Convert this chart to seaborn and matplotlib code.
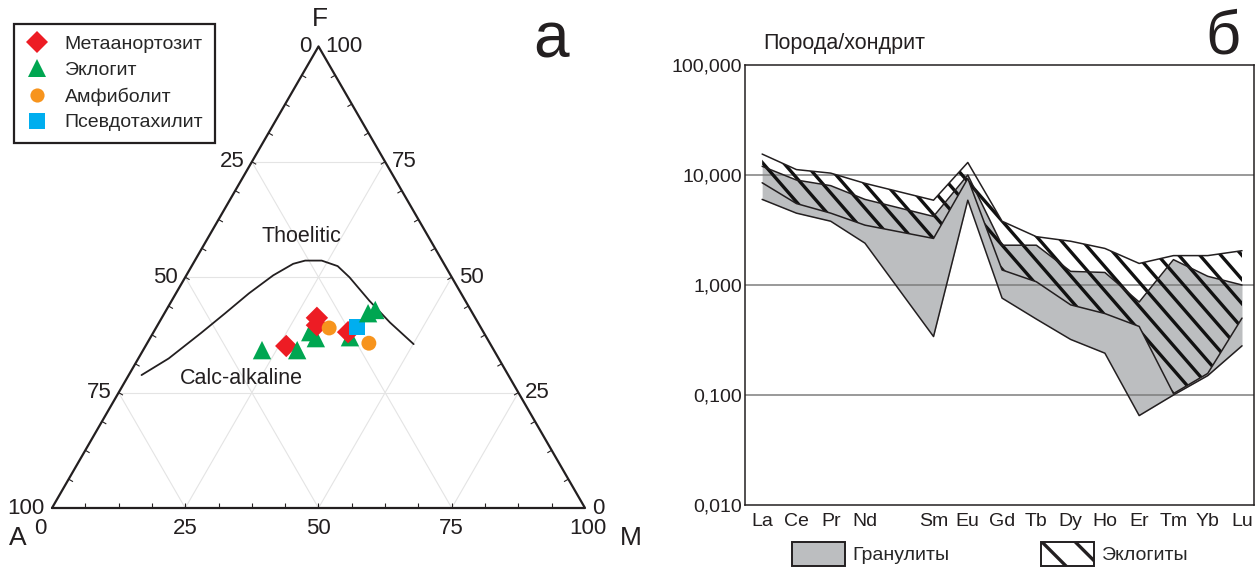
import numpy as np
import pandas as pd
import matplotlib
matplotlib.use("Agg")
import matplotlib.pyplot as plt
from matplotlib.lines import Line2D
from matplotlib.patches import Patch
from matplotlib.collections import LineCollection
import seaborn as sns

# --- AFM ternary samples, percent of A, F, M ---
rock = ["Эклогит", "Метаанортозит", "Эклогит", "Эклогит", "Эклогит",
        "Метаанортозит", "Метаанортозит", "Амфиболит", "Эклогит", "Метаанортозит",
        "Псевдотахилит", "Амфиболит", "Эклогит", "Эклогит"]
a_pct = [43.5, 38.5, 36.9, 32.5, 32.1, 29.7, 30.5, 28.5, 25.6, 25.4, 23.2, 22.7, 19.6, 17.9]
f_pct = [34.2, 35.1, 34.2, 38.1, 36.8, 41.2, 39.6, 39.0, 37.0, 38.1, 39.2, 35.7, 42.2, 42.9]
m_pct = [22.3, 26.4, 28.9, 29.4, 31.1, 29.1, 29.9, 32.5, 37.4, 36.5, 37.6, 41.6, 38.2, 39.2]

# tholeiitic / calc-alkaline dividing line
curve_a = [68.8, 61.9, 53.1, 46.5, 39.8, 33.3, 28.3, 25.7, 22.7, 20.2, 19.2, 17.9, 16.5, 14.4]
curve_f = [28.8, 32.4, 37.9, 42.2, 46.5, 50.4, 52.9, 53.6, 53.6, 52.4, 50.0, 44.9, 40.2, 35.5]
curve_m = [2.4, 5.7, 9.0, 11.4, 13.7, 16.3, 18.8, 20.7, 23.8, 27.4, 30.8, 37.1, 43.3, 50.1]

legend_order = ["Метаанортозит", "Эклогит", "Амфиболит", "Псевдотахилит"]
rock_colors = {"Метаанортозит": "#ed1c24", "Эклогит": "#00a651",
               "Амфиболит": "#f7941d", "Псевдотахилит": "#00aeef"}
rock_markers = {"Метаанортозит": "D", "Эклогит": "^", "Амфиболит": "o", "Псевдотахилит": "s"}
rock_sizes = {"Метаанортозит": 130, "Эклогит": 175, "Амфиболит": 115, "Псевдотахилит": 140}
tern_ticks = [0, 25, 50, 75, 100]

# --- REE chondrite-normalised envelopes ---
ree_pos = [0, 1, 2, 3, 5, 6, 7, 8, 9, 10, 11, 12, 13, 14]
ree_labels = ["La", "Ce", "Pr", "Nd", "", "Sm", "Eu", "Gd", "Tb", "Dy", "Ho", "Er", "Tm", "Yb", "Lu"]
gran_max = [12.0, 9.0, 8.0, 6.0, 4.2, 10.0, 2.3, 2.3, 1.33, 1.3, 0.70, 1.7, 1.2, 1.0]
gran_min = [6.0, 4.5, 3.8, 2.4, 0.34, 5.9, 0.76, 0.49, 0.32, 0.24, 0.065, 0.10, 0.15, 0.28]
ecl_max = [15.5, 11.2, 10.4, 8.4, 5.9, 13.0, 3.8, 2.75, 2.5, 2.15, 1.57, 1.85, 1.85, 2.05]
ecl_min = [8.5, 5.5, 4.5, 3.5, 2.65, 9.3, 1.37, 1.07, 0.66, 0.55, 0.42, 0.103, 0.157, 0.5]
y_ticks = [0.01, 0.1, 1, 10, 100]
y_labels = ["0,010", "0,100", "1,000", "10,000", "100,000"]

sns.set_style("white")
plt.rcParams["font.family"] = ["Liberation Sans", "DejaVu Sans"]
plt.rcParams["hatch.linewidth"] = 2.4
ink = "#231f20"

W, H = 1258, 568
fig = plt.figure(figsize=(W / 100, H / 100), dpi=100)


def fx(px):
    return px / W


def fy(py):
    return 1 - py / H


def to_xy(f, m):
    f = np.asarray(f, float) / 100
    m = np.asarray(m, float) / 100
    return m + f / 2, f * np.sqrt(3) / 2


# ---------------- left panel: ternary ----------------
S = 533.0
tern = fig.add_axes([0, 0, 630 / W, 1])
tern.set_xlim(-52 / S, 578 / S)
tern.set_ylim(-60 / S, 508 / S)
tern.axis("off")

for v in tern_ticks[1:-1]:
    for f0, m0, f1, m1 in [(v, 0, v, 100 - v), (100 - v, 0, 0, 100 - v), (100 - v, v, 0, v)]:
        gx, gy = to_xy([f0, f1], [m0, m1])
        tern.plot(gx, gy, color="#e4e4e4", lw=0.8, zorder=0)

# small ticks every 6.25 %
tick_segs = []
L = 5 / S
for k in range(1, 16):
    v = k * 6.25
    bx, by = to_xy(0, v)
    tick_segs.append([(bx, by), (bx, by + L)])
    lx, ly = to_xy(v, 0)
    tick_segs.append([(lx, ly), (lx + L * np.sqrt(3) / 2, ly - L / 2)])
    rx, ry = to_xy(v, 100 - v)
    tick_segs.append([(rx, ry), (rx - L * np.sqrt(3) / 2, ry - L / 2)])
tern.add_collection(LineCollection(tick_segs, colors=ink, linewidths=0.8))

ex, ey = to_xy([0, 0, 100, 0], [0, 100, 0, 0])
tern.plot(ex, ey, color=ink, lw=1.6, zorder=2)

cx, cy = to_xy(curve_f, curve_m)
sns.lineplot(x=cx, y=cy, sort=False, estimator=None, color=ink, lw=1.3, ax=tern)

px_, py_ = to_xy(f_pct, m_pct)
pts = pd.DataFrame({"x": px_, "y": py_, "rock": rock})
sns.scatterplot(data=pts, x="x", y="y", hue="rock", style="rock", size="rock",
                palette=rock_colors, markers=rock_markers, sizes=rock_sizes,
                linewidth=0, legend=False, ax=tern, zorder=4)
tern.set_xlim(-52 / S, 578 / S)
tern.set_ylim(-60 / S, 508 / S)

tk = dict(fontsize=16, color=ink, textcoords="offset points")
for v in tern_ticks:
    # bottom: M %
    bx, by = to_xy(0, v)
    shift = -12 if v == 0 else (3 if v == 100 else 0)
    tern.annotate(str(v), (bx, by), xytext=(shift * 0.72, -10 * 0.72), ha="center", va="top", **tk)
    # left: A %
    lx, ly = to_xy(100 - v, 0)
    tern.annotate(str(v), (lx, ly), xytext=(-7 * 0.72, 0), ha="right", va="center", **tk)
    # right: F %
    rx, ry = to_xy(v, 100 - v)
    tern.annotate(str(v), (rx, ry), xytext=(7 * 0.72, 0), ha="left", va="center", **tk)

fig.text(fx(320), fy(19), "F", fontsize=19, ha="center", va="center", color=ink)
fig.text(fx(18), fy(538), "A", fontsize=19, ha="center", va="center", color=ink)
fig.text(fx(631), fy(538), "M", fontsize=19, ha="center", va="center", color=ink)
fig.text(fx(551), fy(40), "а", fontsize=46, ha="center", va="center", color=ink)
fig.text(fx(301), fy(236), "Thoelitic", fontsize=15.5, ha="center", va="center", color=ink)
fig.text(fx(241), fy(379), "Calc-alkaline", fontsize=15.5, ha="center", va="center", color=ink)

handles = [Line2D([], [], ls="", marker=rock_markers[r], color=rock_colors[r],
                  markeredgewidth=0, markersize=np.sqrt(rock_sizes[r]) * 0.95)
           for r in legend_order]
leg = tern.legend(handles, legend_order, loc="upper left",
                  bbox_to_anchor=(fx(14), fy(24)), bbox_transform=fig.transFigure,
                  borderaxespad=0, fontsize=14, frameon=True, fancybox=False,
                  edgecolor=ink, framealpha=1, borderpad=0.6, labelspacing=0.42,
                  handlelength=1.2, handletextpad=0.8)
leg.get_frame().set_linewidth(1.6)

# ---------------- right panel: REE spider ----------------
ax = fig.add_axes([fx(745), 63 / H, 509 / W, 440 / H])
ax.set_yscale("log")

ax.fill_between(ree_pos, gran_min, gran_max, color="#bcbec0", lw=0, zorder=1)
for v in y_ticks[1:-1]:
    ax.axhline(v, color="#7d7d7d", lw=1.1, zorder=1.5)

env = ax.fill_between(ree_pos, ecl_min, ecl_max, facecolor="none", edgecolor="none", lw=0)
aw, ah = 509.0, 440.0
run = ah / np.tan(np.radians(49))
segs = [[(c / aw, 0), ((c - run) / aw, 1)] for c in np.arange(0, aw + run, 21)]
hatch = LineCollection(segs, colors="#111111", linewidths=2.4,
                       transform=ax.transAxes, zorder=2)
ax.add_collection(hatch, autolim=False)
hatch.set_clip_path(env.get_paths()[0], ax.transData)

for ys in (gran_min, gran_max, ecl_min, ecl_max):
    sns.lineplot(x=ree_pos, y=ys, sort=False, estimator=None, color=ink, lw=1.1,
                 ax=ax, zorder=3)

ax.set_ylim(0.01, 100)
ax.set_xlim(-0.5, 14.35)
ax.set_yticks(y_ticks)
ax.set_yticklabels(y_labels)
ax.minorticks_off()
ax.set_xticks(range(len(ree_labels)))
ax.set_xticklabels(ree_labels)
ax.set_xticks(np.arange(0.5, 14, 1), minor=True)
ax.tick_params(axis="both", which="major", length=0, labelsize=14, colors=ink)
ax.tick_params(axis="y", pad=2)
ax.tick_params(axis="x", pad=6)
ax.tick_params(axis="x", which="minor", direction="in", length=4, width=0.9, color=ink)
ax.set_xlabel("")
ax.set_ylabel("")
for sp in ax.spines.values():
    sp.set_color(ink)
    sp.set_linewidth(1.1)

fig.text(fx(763), fy(43), "Порода/хондрит", fontsize=15.5, ha="left", va="center", color=ink)
fig.text(fx(1223), fy(38), "б", fontsize=44, ha="center", va="center", color=ink)

ree_handles = [Patch(facecolor="#bcbec0", edgecolor=ink, lw=1.4),
               Patch(facecolor="white", edgecolor=ink, lw=1.4, hatch="\\")]
fig.legend(ree_handles, ["Гранулиты", "Эклогиты"], ncol=2, loc="center left",
           bbox_to_anchor=(fx(792), fy(554)), frameon=False, fontsize=14,
           borderpad=0, borderaxespad=0, handlelength=2.73, handleheight=1.5,
           handletextpad=0.4, columnspacing=4.7)

fig.savefig("out.png", dpi=100)
